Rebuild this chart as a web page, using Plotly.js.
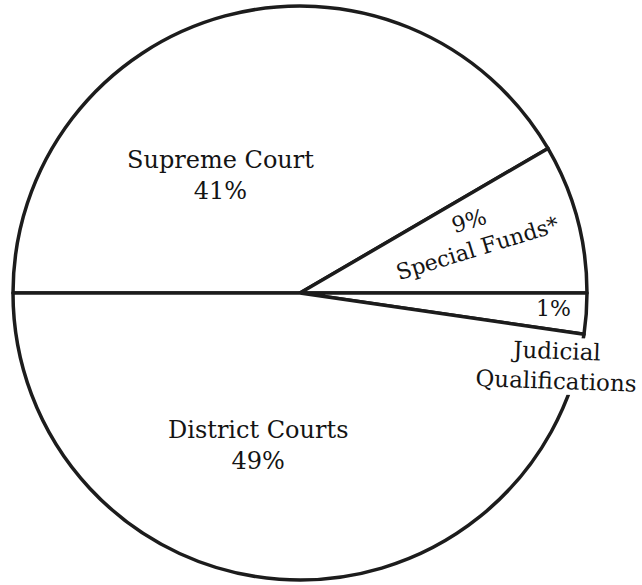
<!DOCTYPE html>
<html>
<head>
<meta charset="utf-8">
<script src="https://cdn.plot.ly/plotly-3.0.1.min.js"></script>
<style>html,body{margin:0;padding:0;background:#fff;}#chart{width:642px;height:585px;}</style>
</head>
<body>
<div id="chart"></div>
<script>
const categories = ["Supreme Court", "Special Funds*", "Judicial Qualifications", "District Courts"];
// slice sizes as drawn in the picture (angles)
const shares = [41.6, 8.4, 2.3, 47.7];
// printed percentage labels
const pctLabels = ["41%", "9%", "1%", "49%"];

const W = 642, H = 585;
function px(x) { return x / W; }
function py(y) { return 1 - y / H; }

const font = {family: "DejaVu Serif", size: 24, color: "#141414"};
function f(size) { return Object.assign({}, font, {size: size}); }

const trace = {
  type: "pie",
  labels: categories,
  values: shares,
  sort: false,
  direction: "clockwise",
  rotation: 270,
  textinfo: "none",
  hoverinfo: "label",
  showlegend: false,
  marker: {colors: ["#ffffff", "#ffffff", "#ffffff", "#ffffff"], line: {color: "#1c1c1c", width: 3.5}},
  domain: {x: [px(13), px(587)], y: [py(584), py(2)]}
};

const annotations = [
  {x: px(220), y: py(175), text: categories[0] + "<br>" + pctLabels[0]},
  {x: px(258), y: py(445), text: categories[3] + "<br>" + pctLabels[3]},
  {x: px(473), y: py(235), text: pctLabels[1] + "<br>" + categories[1], textangle: -17, font: f(22)},
  {x: px(553), y: py(308), text: pctLabels[2], font: f(22)},
  {x: px(556), y: py(366), text: "Judicial<br>Qualifications", textangle: 2, font: f(23), bgcolor: "#ffffff", borderpad: 0}
].map(a => Object.assign({xref: "paper", yref: "paper", showarrow: false, xanchor: "center", yanchor: "middle", font: font, align: "center"}, a));

const layout = {
  width: W, height: H,
  margin: {l: 0, r: 0, t: 0, b: 0},
  paper_bgcolor: "#ffffff",
  plot_bgcolor: "#ffffff",
  annotations: annotations
};

Plotly.newPlot("chart", [trace], layout, {displayModeBar: false, staticPlot: true});
</script>
</body>
</html>
